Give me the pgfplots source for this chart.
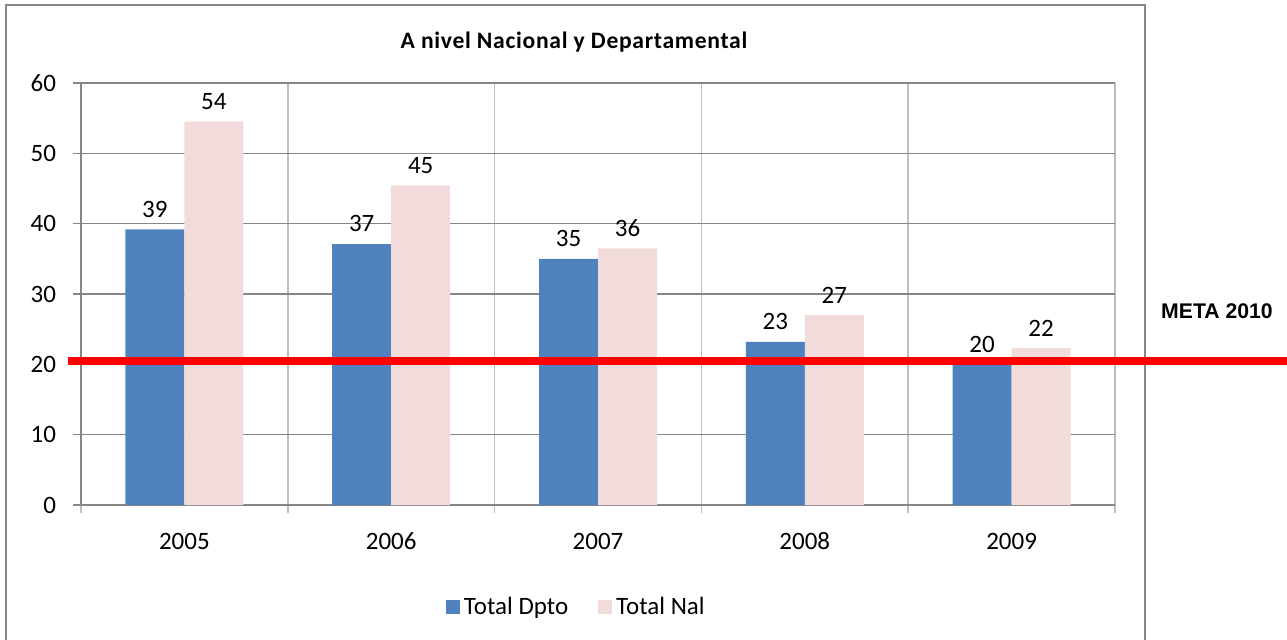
\documentclass[border=0pt]{standalone}
\usepackage{pgfplots}
\pgfplotsset{compat=1.18}
\usepackage{fontspec}
\setmainfont{Carlito}
\newfontfamily\arialfont{Liberation Sans}
\definecolor{dpto}{HTML}{4F81BD}
\definecolor{nal}{HTML}{F2DCDB}
\definecolor{axgray}{HTML}{868686}
\definecolor{grgray}{HTML}{BFBFBF}
\begin{document}
\begin{tikzpicture}
\path[use as bounding box] (0,0) rectangle (643.5pt,-319.5pt);
\draw[axgray, line width=0.9pt] (3pt,-340pt) -- (3pt,-2.5pt) -- (572.5pt,-2.5pt) -- (572.5pt,-340pt);
\node[font={\fontsize{11.8}{13}\selectfont\bfseries\addfontfeature{LetterSpace=3}}] at (287pt,-21pt) {A nivel Nacional y Departamental};
\node[font={\arialfont\bfseries\fontsize{10.6}{12}\selectfont}] at (608.5pt,-155.5pt) {META 2010};
\begin{axis}[
  at={(40.5pt,-252.5pt)}, anchor=south west,
  scale only axis, width=517pt, height=211pt,
  xmin=-0.5, xmax=4.5, ymin=0, ymax=60,
  clip=false,
  ybar=0pt, bar width=29.5pt,
  axis x line*=bottom, axis y line*=left,
  axis line style={-, draw=axgray, line width=0.8pt},
  xtick={0,1,2,3,4}, xticklabels={2005,2006,2007,2008,2009},
  major x tick style={draw=none},
  minor xtick={-0.5,0.5,1.5,2.5,3.5,4.5},
  minor x tick style={draw=grgray, line width=0.8pt},
  xminorgrids=true,
  minor x grid style={draw=grgray, line width=0.8pt},
  ytick={0,10,...,60},
  ymajorgrids=true,
  major y grid style={draw=axgray, line width=0.7pt},
  major y tick style={draw=axgray, line width=0.7pt},
  tick align=outside,
  major tick length=4pt, minor tick length=4pt,
  /pgf/number format/assume math mode=true,
  ticklabel style={font=\fontsize{12.5}{14}\selectfont},
  xticklabel style={yshift=-6pt, text height=8.5pt, text depth=0pt},
  yticklabel style={xshift=-5pt},
  legend style={draw=none, at={(0.48,-0.242)}, anchor=center,
    legend columns=2, font=\fontsize{12.5}{14}\selectfont,
    /tikz/every even column/.append style={column sep=13pt}},
]
\addplot[fill=dpto, draw=none, nodes near coords, point meta=explicit symbolic,
  every node near coord/.append style={font=\fontsize{12.5}{14}\selectfont, yshift=2.5pt},
  legend image code/.code={\fill[dpto] (-1.5pt,-3.5pt) rectangle (5.5pt,3.5pt);}]
  coordinates {(0,39.2)[39] (1,37.1)[37] (2,35.0)[35] (3,23.2)[23] (4,20.0)[20]};
\addlegendentry{Total Dpto}
\addplot[fill=nal, draw=none, nodes near coords, point meta=explicit symbolic,
  every node near coord/.append style={font=\fontsize{12.5}{14}\selectfont, yshift=2.5pt},
  legend image code/.code={\fill[nal] (-1.5pt,-3.5pt) rectangle (5.5pt,3.5pt);}]
  coordinates {(0,54.5)[54] (1,45.4)[45] (2,36.5)[36] (3,27.0)[27] (4,22.3)[22]};
\addlegendentry{Total Nal}
\addplot[sharp plot, red, line width=3.8pt, forget plot]
  coordinates {(-0.563,20.5) (5.34,20.5)};
\end{axis}
\end{tikzpicture}
\end{document}
